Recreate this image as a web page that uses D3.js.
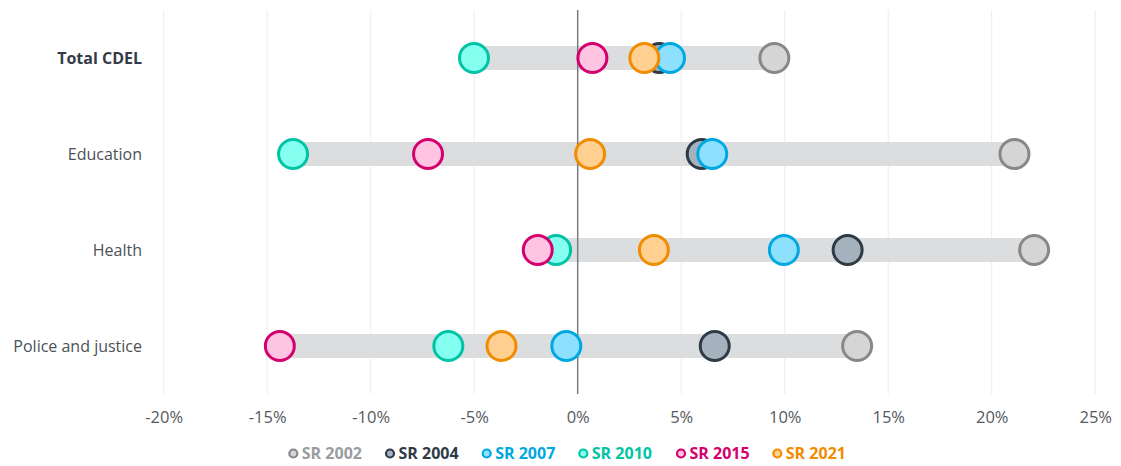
<!DOCTYPE html>
<html><head><meta charset="utf-8">
<script src="https://cdn.jsdelivr.net/npm/d3@7"></script>
<style>
html,body{margin:0;padding:0;background:#fff;}
svg{display:block;font-family:"Open Sans","Noto Sans",sans-serif;}
</style></head>
<body><svg id="c" width="1121" height="466"></svg>
<script>
const categories = ["Total CDEL", "Education", "Health", "Police and justice"];
const seriesNames = ["SR 2002", "SR 2004", "SR 2007", "SR 2010", "SR 2015", "SR 2021"];
const sr2002 = [9.5, 21.1, 22.05, 13.5];
const sr2004 = [3.94, 5.99, 13.04, 6.62];
const sr2007 = [4.46, 6.5, 9.96, -0.55];
const sr2010 = [-5.01, -13.75, -1.04, -6.25];
const sr2015 = [0.71, -7.23, -1.93, -14.39];
const sr2021 = [3.22, 0.6, 3.68, -3.68];
const tickValues = [-20, -15, -10, -5, 0, 5, 10, 15, 20, 25];
const strokeColors = ["#888888", "#2e3b47", "#00a8e1", "#00c4a5", "#d3006e", "#f18b00"];
const fillColors = ["#d5d5d5", "#a5b2bd", "#8ee0ff", "#84fff0", "#ffc4e1", "#ffd08f"];
const legendText = ["#999ca0", "#2e3b47", "#00a8e1", "#00c4a5", "#d3006e", "#f18b00"];

(function () {
const series = [sr2002, sr2004, sr2007, sr2010, sr2015, sr2021];
const svg = d3.select("#c");
const x = d3.scaleLinear().domain([-20, 25]).range([163.7, 1095.2]);
const y = d3.scalePoint().domain(categories).range([58, 346]);
const yTop = 10, yBottom = 394;

// gridlines
svg.append("g").selectAll("line").data(tickValues.filter(v => v !== 0)).join("line")
  .attr("x1", d => x(d)).attr("x2", d => x(d)).attr("y1", yTop).attr("y2", yBottom)
  .attr("stroke", "#ececec").attr("stroke-width", 1);

// x axis labels
const xAxis = d3.axisBottom(x).tickValues(tickValues).tickSize(0).tickPadding(0)
  .tickFormat(d => d + "%");
const gx = svg.append("g").attr("transform", "translate(0,423)").call(xAxis);
gx.select(".domain").remove();
gx.selectAll("text").attr("font-size", 16.5).attr("fill", "#555a60").attr("dy", 0)
  .attr("font-family", "'Open Sans','Noto Sans',sans-serif");

// bars
svg.append("g").selectAll("rect").data(categories).join("rect")
  .attr("x", (d, i) => x(d3.min(series, s => s[i])))
  .attr("width", (d, i) => x(d3.max(series, s => s[i])) - x(d3.min(series, s => s[i])))
  .attr("y", d => y(d) - 12).attr("height", 24)
  .attr("fill", "#dcdddf");

// zero line
svg.append("line").attr("x1", x(0)).attr("x2", x(0)).attr("y1", yTop).attr("y2", yBottom)
  .attr("stroke", "#7a7d80").attr("stroke-width", 1.5);

// y labels
const yAxis = d3.axisLeft(y).tickSize(0).tickPadding(0);
const gy = svg.append("g").attr("transform", "translate(142,0)").call(yAxis);
gy.select(".domain").remove();
gy.selectAll("text").attr("font-size", 16)
  .attr("font-family", "'Open Sans','Noto Sans',sans-serif")
  .attr("font-weight", d => d === "Total CDEL" ? 700 : 400)
  .attr("fill", d => d === "Total CDEL" ? "#333c46" : "#4b5158");

// dots
series.forEach((s, k) => {
  svg.append("g").selectAll("circle").data(categories).join("circle")
    .attr("cx", (d, i) => x(s[i])).attr("cy", d => y(d)).attr("r", 14.5)
    .attr("fill", fillColors[k]).attr("stroke", strokeColors[k]).attr("stroke-width", 3);
});

// legend
const legendX = [293.3, 390, 486.7, 583.3, 681, 777.3];
const lg = svg.append("g");
seriesNames.forEach((n, k) => {
  lg.append("circle").attr("cx", legendX[k]).attr("cy", 453.5).attr("r", 4)
    .attr("fill", fillColors[k]).attr("stroke", strokeColors[k]).attr("stroke-width", 2.2);
  lg.append("text").attr("x", legendX[k] + 8.5).attr("y", 453.5).attr("dy", "0.35em")
    .attr("font-size", 16).attr("font-weight", 700).attr("fill", legendText[k]).text(n);
});
})();
</script></body></html>
